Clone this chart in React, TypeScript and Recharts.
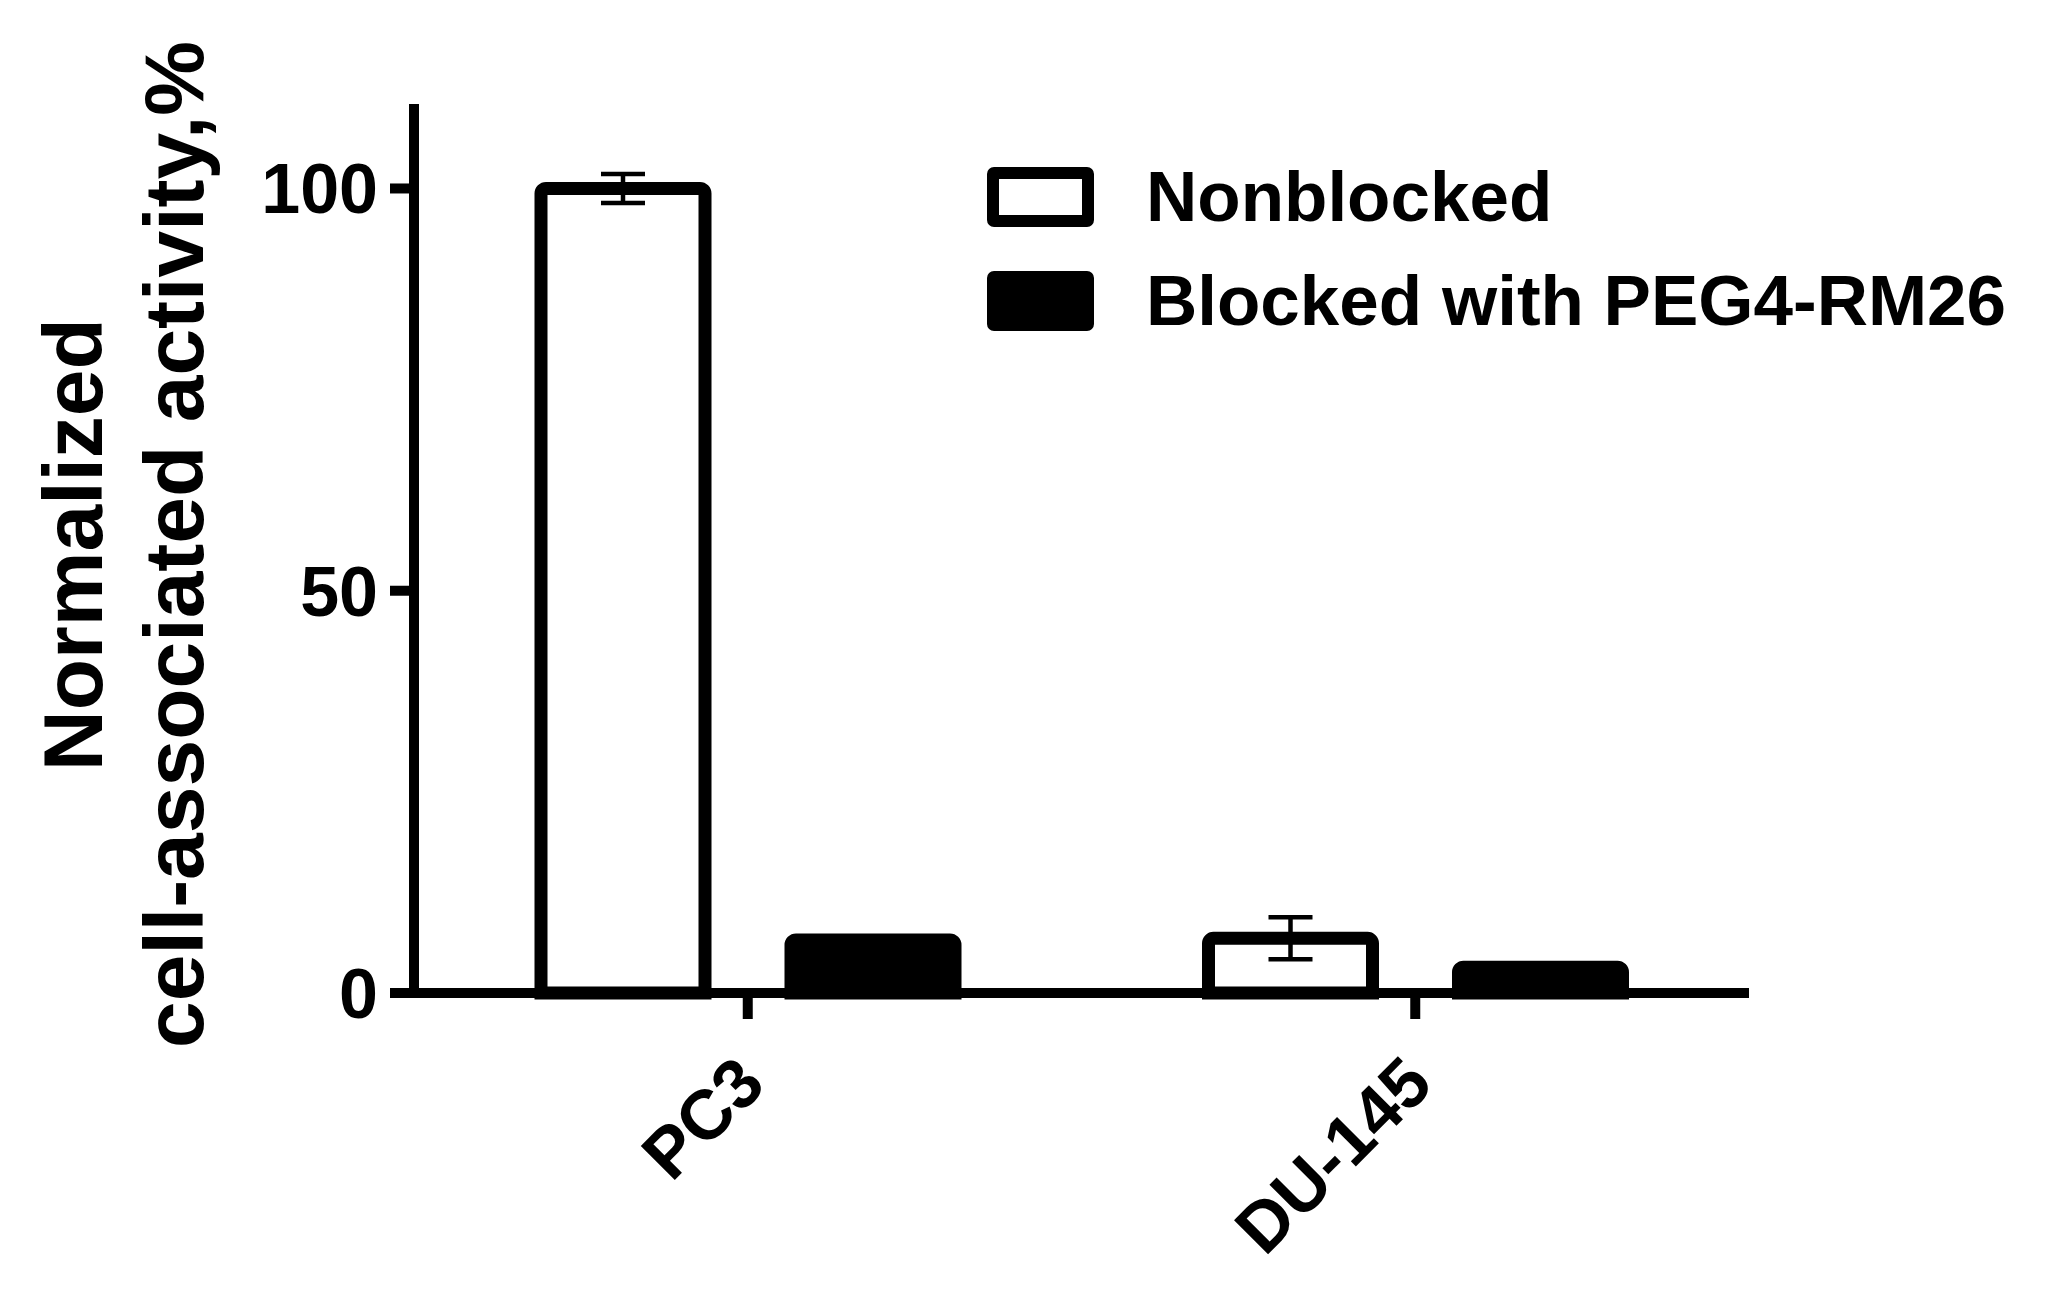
import { BarChart, Bar, XAxis, YAxis, ErrorBar, Legend, ReferenceLine, Label } from 'recharts'

const categories = ['PC3', 'DU-145']
const nonblocked = [100, 6.8]
const nonblockedErr = [1.8, 2.6]
const blocked = [6.6, 3.2]
const yTicks = [0, 50, 100]
const seriesOrder = ['nonblocked', 'blocked']

const data = categories.map((name, i) => ({
  name,
  nonblocked: nonblocked[i],
  nonblockedErr: nonblockedErr[i],
  blocked: blocked[i],
}))

const FONT = "'Liberation Sans', Arial, Helvetica, sans-serif"

function YTick({ x, y, payload }: any) {
  return (
    <g>
      <line x1={x - 1} x2={x + 23} y1={y} y2={y} stroke="#000" strokeWidth={10} />
      <text x={x - 13} y={y + 25} textAnchor="end" fontFamily={FONT} fontWeight={700} fontSize={70} fill="#000">
        {payload.value}
      </text>
    </g>
  )
}

function XTick({ x, y, payload }: any) {
  const ax = x + 20
  const ay = y + 66
  return (
    <text
      x={ax}
      y={ay}
      transform={`rotate(-45, ${ax}, ${ay})`}
      textAnchor="end"
      fontFamily={FONT}
      fontWeight={700}
      fontSize={70}
      fill="#000"
    >
      {payload.value}
    </text>
  )
}

function YTitle({ viewBox }: any) {
  const cy = viewBox ? viewBox.y + viewBox.height / 2 - 4 : 546
  const common = { textAnchor: 'middle' as const, fontFamily: FONT, fontWeight: 700, fontSize: 84, fill: '#000' }
  return (
    <g>
      <text x={102} y={cy} transform={`rotate(-90, 102, ${cy})`} {...common}>
        Normalized
      </text>
      <text x={203} y={cy} transform={`rotate(-90, 203, ${cy})`} {...common}>
        cell-associated activity,%
      </text>
    </g>
  )
}

function LegendContent({ payload }: any) {
  // keep series order (recharts sorts legend items by name)
  const items = [...(payload || [])].sort(
    (a: any, b: any) => seriesOrder.indexOf(a.dataKey) - seriesOrder.indexOf(b.dataKey)
  )
  return (
    <div style={{ display: 'flex', flexDirection: 'column', gap: 44 }}>
      {items.map((entry: any) => {
        const outlined = entry.dataKey === 'nonblocked'
        return (
          <div key={entry.value} style={{ display: 'flex', alignItems: 'center', height: 60 }}>
            <div
              style={{
                width: 107,
                height: 60,
                boxSizing: 'border-box',
                border: '12px solid #000',
                borderRadius: 7,
                background: outlined ? '#fff' : '#000',
                marginRight: 52,
              }}
            />
            <span
              style={{
                fontFamily: FONT,
                fontWeight: 700,
                fontSize: 71,
                lineHeight: '60px',
                color: '#000',
                whiteSpace: 'nowrap',
              }}
            >
              {entry.value}
            </span>
          </div>
        )
      })}
    </div>
  )
}

export default function App() {
  return (
    <div style={{ position: 'absolute', left: 0, top: 0, width: 2051, height: 1307, background: '#fff' }}>
      <BarChart
        width={2051}
        height={1307}
        data={data}
        margin={{ top: 104, right: 302, bottom: 34, left: 191 }}
        barSize={164}
        barGap={86}
      >
        <XAxis
          dataKey="name"
          padding={{ left: 23, right: 0 }}
          height={280}
          axisLine={{ stroke: '#000', strokeWidth: 10 }}
          tickLine={{ stroke: '#000', strokeWidth: 10 }}
          tickSize={26}
          tickMargin={2}
          tick={<XTick />}
          interval={0}
        />
        <YAxis
          domain={[0, 110.5]}
          ticks={yTicks}
          width={200}
          axisLine={false}
          tickLine={false}
          tickSize={0}
          tickMargin={0}
          tick={<YTick />}
        >
          <Label content={<YTitle />} />
        </YAxis>
        <ReferenceLine x="PC3" position="start" stroke="#000" strokeWidth={10} ifOverflow="visible" />
        <Legend
          layout="vertical"
          align="center"
          verticalAlign="middle"
          wrapperStyle={{ top: 167, left: 987, right: 'auto', bottom: 'auto', width: 'auto' }}
          content={<LegendContent />}
        />
        <Bar
          dataKey="nonblocked"
          name="Nonblocked"
          fill="#ffffff"
          stroke="#000"
          strokeWidth={13}
          radius={[5, 5, 0, 0]}
          isAnimationActive={false}
        >
          <ErrorBar dataKey="nonblockedErr" width={22} strokeWidth={4.5} stroke="#000" direction="y" isAnimationActive={false} />
        </Bar>
        <Bar
          dataKey="blocked"
          name="Blocked with PEG4-RM26"
          fill="#000000"
          stroke="#000"
          strokeWidth={13}
          radius={[5, 5, 0, 0]}
          isAnimationActive={false}
        />
      </BarChart>
    </div>
  )
}
